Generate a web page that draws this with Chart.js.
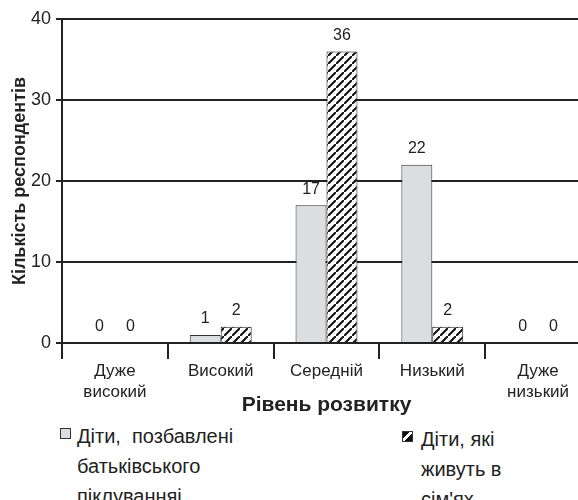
<!DOCTYPE html>
<html>
<head>
<meta charset="utf-8">
<script src="https://cdn.jsdelivr.net/npm/chart.js@4"></script>
<style>
  html, body { margin: 0; padding: 0; background: #fff; overflow: hidden; width: 578px; height: 500px; }
  #wrap { position: absolute; left: 0; top: 0; width: 600px; height: 420px; }
  .leg { position: absolute; font-family: "Liberation Sans", Arial, sans-serif; font-size: 20px; line-height: 30px; color: #222; }
  .box { position: absolute; width: 11px; height: 11px; box-sizing: border-box; border: 1px solid #333; }
</style>
</head>
<body>
<div id="wrap"><canvas id="c" width="600" height="420"></canvas></div>
<span class="box" id="box1" style="left:60px; top:428px;"></span>
<div class="leg" style="left:77px; top:421px;">Діти,&nbsp; позбавлені<br>батьківського<br>піклуванняі</div>
<span class="box" id="box2" style="left:402px; top:431px;"></span>
<div class="leg" style="left:421px; top:424px;">Діти, які<br>живуть в<br>сім'ях</div>
<script>
const categories = [['Дуже', 'високий'], 'Високий', 'Середній', 'Низький', ['Дуже', 'низький']];
const deprivedCare = [0, 1, 17, 22, 0];
const livingInFamilies = [0, 2, 36, 2, 0];
const seriesNames = ['Діти, позбавлені батьківського піклуванняі', "Діти, які живуть в сім'ях"];
const yTicks = [0, 10, 20, 30, 40];

const FONT = '"Liberation Sans", Arial, sans-serif';
const INK = '#222';
const GRAY = '#dcdddf';

function makeHatch() {
  const s = 8;
  const p = document.createElement('canvas');
  p.width = s; p.height = s;
  const g = p.getContext('2d');
  g.fillStyle = '#fff';
  g.fillRect(0, 0, s, s);
  g.strokeStyle = '#111';
  g.lineWidth = 2.1;
  g.beginPath();
  g.moveTo(-1, s + 1); g.lineTo(s + 1, -1);
  g.moveTo(-3, 1); g.lineTo(1, -3);
  g.moveTo(s - 1, s + 3); g.lineTo(s + 3, s - 1);
  g.stroke();
  return document.getElementById('c').getContext('2d').createPattern(p, 'repeat');
}
const hatch = makeHatch();

document.getElementById('box1').style.background = GRAY;
document.getElementById('box2').style.background =
  'linear-gradient(135deg, #111 0%, #111 38%, #fff 38%, #fff 58%, #111 58%, #111 100%)';

const valueLabels = {
  id: 'valueLabels',
  afterDatasetsDraw(chart) {
    const ctx = chart.ctx;
    ctx.save();
    ctx.font = '16px ' + FONT;
    ctx.fillStyle = INK;
    ctx.textAlign = 'center';
    ctx.textBaseline = 'middle';
    chart.data.datasets.forEach((ds, i) => {
      const meta = chart.getDatasetMeta(i);
      meta.data.forEach((el, j) => {
        ctx.fillText(String(ds.data[j]), el.x, el.y - 16);
      });
    });
    ctx.restore();
  }
};

new Chart(document.getElementById('c'), {
  type: 'bar',
  data: {
    labels: categories,
    datasets: [
      { label: seriesNames[0], data: deprivedCare, backgroundColor: GRAY, borderColor: '#333', borderWidth: 1, barPercentage: 1, categoryPercentage: 0.585 },
      { label: seriesNames[1], data: livingInFamilies, backgroundColor: hatch, borderColor: '#111', borderWidth: 1, barPercentage: 1, categoryPercentage: 0.585 }
    ]
  },
  options: {
    responsive: false,
    animation: false,
    devicePixelRatio: 1,
    layout: { padding: { top: 19, right: 9, left: 0, bottom: 0 } },
    plugins: { legend: { display: false }, tooltip: { enabled: false } },
    scales: {
      x: {
        offset: true,
        grid: { offset: true, drawOnChartArea: false, drawTicks: true, tickLength: 16, color: INK, lineWidth: 2 },
        border: { display: true, color: INK, width: 2 },
        ticks: { color: INK, font: { family: FONT, size: 17, lineHeight: 1.24 }, padding: 2, maxRotation: 0, autoSkip: false },
        title: { display: true, text: 'Рівень розвитку', color: INK, font: { family: FONT, size: 21, weight: 'bold' }, padding: { top: 0, bottom: 2 } },
        afterFit(scale) { scale.height = 77; }
      },
      y: {
        min: 0, max: 40,
        afterBuildTicks(scale) { scale.ticks = yTicks.map(v => ({ value: v })); },
        grid: { color: INK, lineWidth: 2, tickLength: 6, drawTicks: true },
        border: { display: true, color: INK, width: 2 },
        ticks: { color: INK, font: { family: FONT, size: 18 }, padding: 5 },
        title: { display: true, text: 'Кількість респондентів', color: INK, font: { family: FONT, size: 18, weight: 'bold' }, padding: { top: 9, bottom: 0 } },
        afterFit(scale) { scale.width = 62; }
      }
    }
  },
  plugins: [valueLabels]
});
</script>
</body>
</html>
